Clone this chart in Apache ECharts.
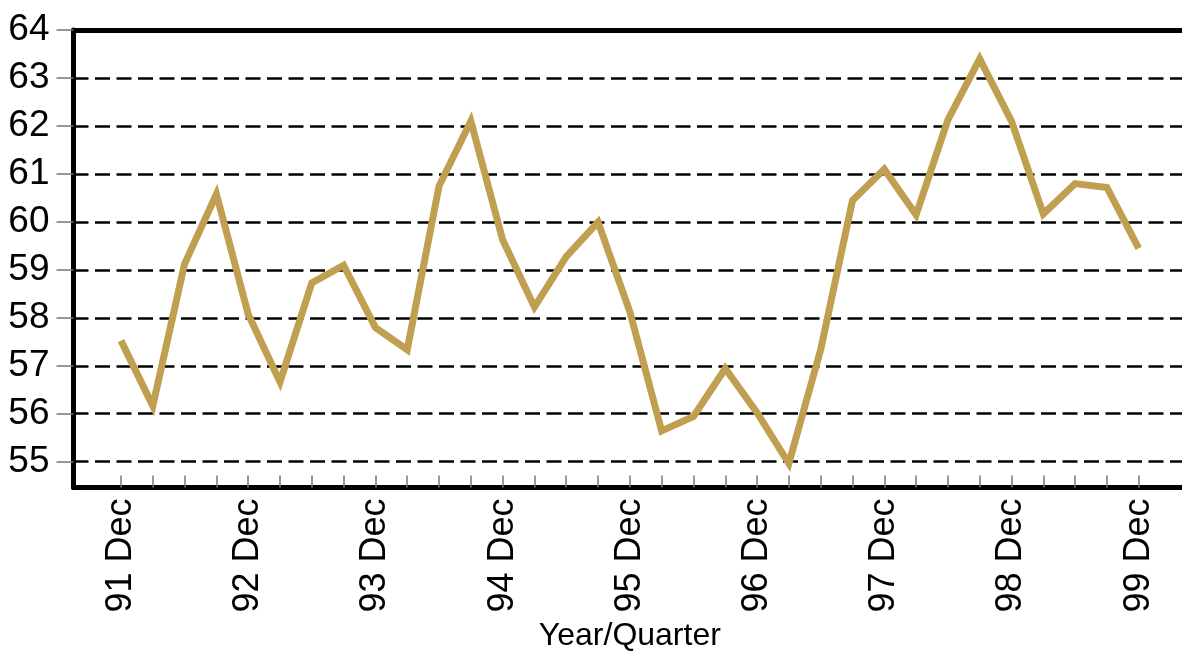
<!DOCTYPE html>
<html>
<head>
<meta charset="utf-8">
<script src="https://cdn.jsdelivr.net/npm/echarts@6/dist/echarts.min.js"></script>
<style>
	html, body { margin: 0; padding: 0; background: #fff; }
	#chart { width: 1182px; height: 661px; }
</style>
</head>
<body>
<div id="chart"></div>
<script>
	// quarters, 91 Dec .. 99 Dec
	var categories = [
		'91 Dec', '92 Mar', '92 Jun', '92 Sep',
		'92 Dec', '93 Mar', '93 Jun', '93 Sep',
		'93 Dec', '94 Mar', '94 Jun', '94 Sep',
		'94 Dec', '95 Mar', '95 Jun', '95 Sep',
		'95 Dec', '96 Mar', '96 Jun', '96 Sep',
		'96 Dec', '97 Mar', '97 Jun', '97 Sep',
		'97 Dec', '98 Mar', '98 Jun', '98 Sep',
		'98 Dec', '99 Mar', '99 Jun', '99 Sep',
		'99 Dec'
	];
	var values = [
		57.53, 56.17, 59.13, 60.58,
		58.08, 56.67, 58.73, 59.1,
		57.8, 57.34, 60.75, 62.1,
		59.63, 58.23, 59.28, 60.0,
		58.13, 55.65, 55.95, 56.95,
		56.03, 54.97, 57.34, 60.45,
		61.1, 60.15, 62.13, 63.4,
		62.1, 60.17, 60.8, 60.72,
		59.45
	];
	var yMin = 55, yMax = 64, yStep = 1;
	var frameMin = 54.47; // value at the bottom axis line
	var xTitle = 'Year/Quarter';

	var myChart = echarts.init(document.getElementById('chart'));
	var frameLine = { show: true, lineStyle: { color: '#000', width: 5, cap: 'round' } };

	var option = {
		animation: false,
		backgroundColor: '#fff',
		grid: [
			// frame (thick left, bottom, top lines)
			{ left: 73.5, right: -10, top: 30, bottom: 173.5 },
			// y scale labels + dashed grid lines
			{ left: 73.5, right: -10, top: 30, bottom: 199.3 },
			// data area
			{ left: 121, right: 43.3, top: 30, bottom: 173.5 }
		],
		xAxis: [
			{ gridIndex: 0, type: 'value', position: 'bottom', axisLine: frameLine,
				axisTick: { show: false }, axisLabel: { show: false }, splitLine: { show: false } },
			{ gridIndex: 0, type: 'value', position: 'top', axisLine: frameLine,
				axisTick: { show: false }, axisLabel: { show: false }, splitLine: { show: false } },
			{ gridIndex: 1, type: 'value', show: false },
			{
				gridIndex: 2,
				type: 'category',
				data: categories,
				boundaryGap: false,
				axisLine: { show: false },
				axisTick: { show: true, inside: true, length: 12, interval: 0,
					lineStyle: { color: '#777', width: 1.5 } },
				axisLabel: {
					interval: 3,
					rotate: 90,
					margin: 11,
					color: '#000',
					fontSize: 36,
					fontFamily: '"Liberation Sans", Arial, sans-serif'
				},
				name: xTitle,
				nameLocation: 'middle',
				nameGap: 133,
				nameTextStyle: {
					color: '#000',
					fontSize: 32,
					fontFamily: '"Liberation Sans", Arial, sans-serif'
				}
			}
		],
		yAxis: [
			{ gridIndex: 0, type: 'value', min: 0, max: 1, axisLine: frameLine,
				axisTick: { show: false }, axisLabel: { show: false }, splitLine: { show: false } },
			{
				gridIndex: 1,
				type: 'value',
				min: yMin,
				max: yMax,
				interval: yStep,
				axisLine: { show: false },
				axisTick: { show: true, length: 17, lineStyle: { color: '#777', width: 1.5 } },
				axisLabel: {
					margin: 24,
					color: '#000',
					fontSize: 37,
					fontFamily: '"Liberation Sans", Arial, sans-serif'
				},
				splitLine: {
					show: true,
					lineStyle: { color: '#000', width: 2.5, type: [15, 6.5] }
				}
			},
			{ gridIndex: 2, type: 'value', min: frameMin, max: yMax, show: false }
		],
		series: [
			{
				type: 'line',
				xAxisIndex: 3,
				yAxisIndex: 2,
				data: values,
				symbol: 'none',
				lineStyle: { color: '#C0A050', width: 7, join: 'miter', cap: 'butt' },
				z: 5
			}
		]
	};
	myChart.setOption(option);
</script>
</body>
</html>
